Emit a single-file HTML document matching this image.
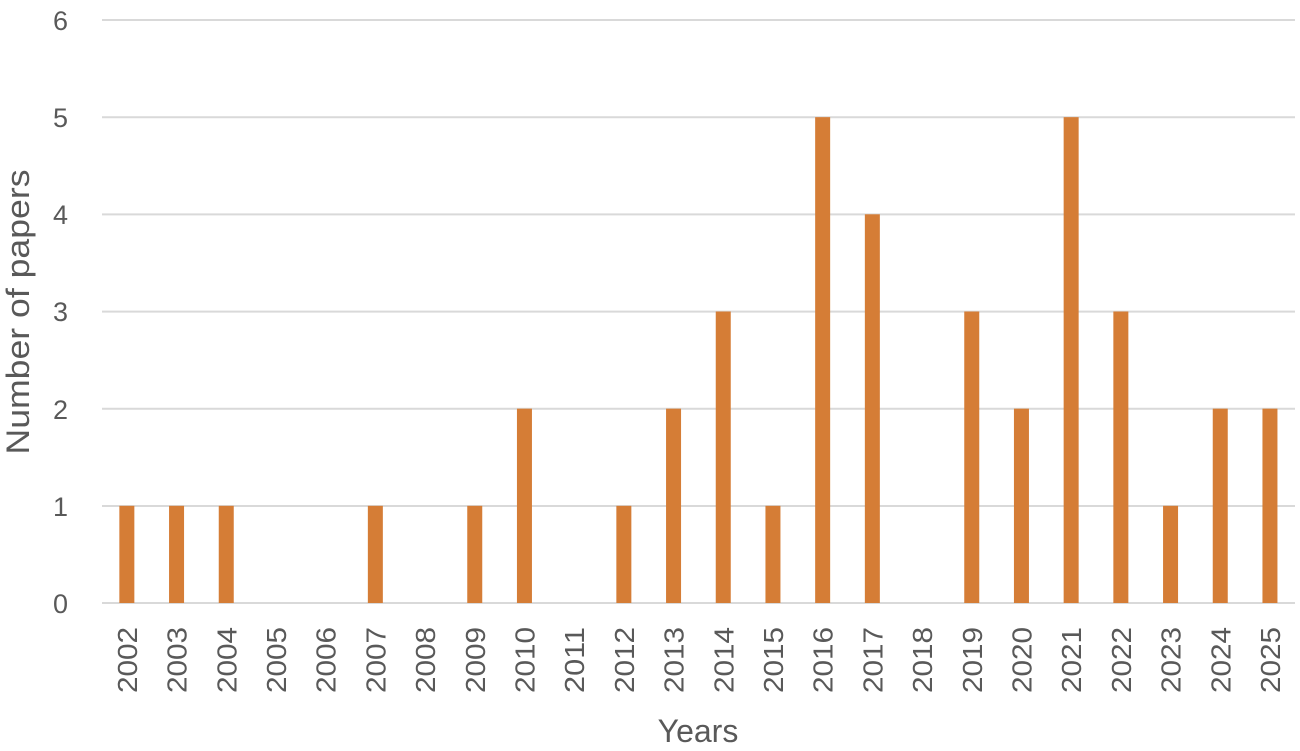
<!DOCTYPE html>
<html><head><meta charset="utf-8"><style>
html,body{margin:0;padding:0;background:#fff;}
svg{display:block;font-family:"Liberation Sans",sans-serif;}
</style></head><body>
<svg width="1300" height="751" viewBox="0 0 1300 751" xmlns="http://www.w3.org/2000/svg">
<g stroke="#d9d9d9" stroke-width="2">
<line x1="102" x2="1295" y1="20" y2="20"/>
<line x1="102" x2="1295" y1="117.2" y2="117.2"/>
<line x1="102" x2="1295" y1="214.4" y2="214.4"/>
<line x1="102" x2="1295" y1="311.6" y2="311.6"/>
<line x1="102" x2="1295" y1="408.8" y2="408.8"/>
<line x1="102" x2="1295" y1="506" y2="506"/>
<line x1="102" x2="1295" y1="603" y2="603"/>
</g>
<g fill="#595959" font-size="27" text-anchor="end">
<text x="68" y="30">6</text>
<text x="68" y="127">5</text>
<text x="68" y="224">4</text>
<text x="68" y="321">3</text>
<text x="68" y="419">2</text>
<text x="68" y="516">1</text>
<text x="68" y="613">0</text>
</g>
<g fill="#d57d36">
<rect x="119.35" y="505.83" width="15" height="97.17"/>
<rect x="169.05" y="505.83" width="15" height="97.17"/>
<rect x="218.75" y="505.83" width="15" height="97.17"/>
<rect x="367.85" y="505.83" width="15" height="97.17"/>
<rect x="467.25" y="505.83" width="15" height="97.17"/>
<rect x="516.95" y="408.66" width="15" height="194.34"/>
<rect x="616.35" y="505.83" width="15" height="97.17"/>
<rect x="666.05" y="408.66" width="15" height="194.34"/>
<rect x="715.75" y="311.5" width="15" height="291.5"/>
<rect x="765.45" y="505.83" width="15" height="97.17"/>
<rect x="815.15" y="117.15" width="15" height="485.85"/>
<rect x="864.85" y="214.3" width="15" height="388.7"/>
<rect x="964.25" y="311.5" width="15" height="291.5"/>
<rect x="1013.95" y="408.66" width="15" height="194.34"/>
<rect x="1063.65" y="117.15" width="15" height="485.85"/>
<rect x="1113.35" y="311.5" width="15" height="291.5"/>
<rect x="1163.05" y="505.83" width="15" height="97.17"/>
<rect x="1212.75" y="408.66" width="15" height="194.34"/>
<rect x="1262.45" y="408.66" width="15" height="194.34"/>
</g>
<g fill="#595959" font-size="28" text-anchor="end">
<text transform="translate(136.85,627) rotate(-90)" textLength="66" lengthAdjust="spacingAndGlyphs">2002</text>
<text transform="translate(186.55,627) rotate(-90)" textLength="66" lengthAdjust="spacingAndGlyphs">2003</text>
<text transform="translate(236.25,627) rotate(-90)" textLength="66" lengthAdjust="spacingAndGlyphs">2004</text>
<text transform="translate(285.95,627) rotate(-90)" textLength="66" lengthAdjust="spacingAndGlyphs">2005</text>
<text transform="translate(335.65,627) rotate(-90)" textLength="66" lengthAdjust="spacingAndGlyphs">2006</text>
<text transform="translate(385.35,627) rotate(-90)" textLength="66" lengthAdjust="spacingAndGlyphs">2007</text>
<text transform="translate(435.05,627) rotate(-90)" textLength="66" lengthAdjust="spacingAndGlyphs">2008</text>
<text transform="translate(484.75,627) rotate(-90)" textLength="66" lengthAdjust="spacingAndGlyphs">2009</text>
<text transform="translate(534.45,627) rotate(-90)" textLength="66" lengthAdjust="spacingAndGlyphs">2010</text>
<text transform="translate(584.15,627) rotate(-90)" textLength="66" lengthAdjust="spacingAndGlyphs">2011</text>
<text transform="translate(633.85,627) rotate(-90)" textLength="66" lengthAdjust="spacingAndGlyphs">2012</text>
<text transform="translate(683.55,627) rotate(-90)" textLength="66" lengthAdjust="spacingAndGlyphs">2013</text>
<text transform="translate(733.25,627) rotate(-90)" textLength="66" lengthAdjust="spacingAndGlyphs">2014</text>
<text transform="translate(782.95,627) rotate(-90)" textLength="66" lengthAdjust="spacingAndGlyphs">2015</text>
<text transform="translate(832.65,627) rotate(-90)" textLength="66" lengthAdjust="spacingAndGlyphs">2016</text>
<text transform="translate(882.35,627) rotate(-90)" textLength="66" lengthAdjust="spacingAndGlyphs">2017</text>
<text transform="translate(932.05,627) rotate(-90)" textLength="66" lengthAdjust="spacingAndGlyphs">2018</text>
<text transform="translate(981.75,627) rotate(-90)" textLength="66" lengthAdjust="spacingAndGlyphs">2019</text>
<text transform="translate(1031.45,627) rotate(-90)" textLength="66" lengthAdjust="spacingAndGlyphs">2020</text>
<text transform="translate(1081.15,627) rotate(-90)" textLength="66" lengthAdjust="spacingAndGlyphs">2021</text>
<text transform="translate(1130.85,627) rotate(-90)" textLength="66" lengthAdjust="spacingAndGlyphs">2022</text>
<text transform="translate(1180.55,627) rotate(-90)" textLength="66" lengthAdjust="spacingAndGlyphs">2023</text>
<text transform="translate(1230.25,627) rotate(-90)" textLength="66" lengthAdjust="spacingAndGlyphs">2024</text>
<text transform="translate(1279.95,627) rotate(-90)" textLength="66" lengthAdjust="spacingAndGlyphs">2025</text>
</g>
<text x="698" y="742" fill="#595959" font-size="32" text-anchor="middle">Years</text>
<text transform="translate(29,312) rotate(-90)" fill="#595959" font-size="32" text-anchor="middle" textLength="285" lengthAdjust="spacingAndGlyphs">Number of papers</text>
</svg>
</body></html>
